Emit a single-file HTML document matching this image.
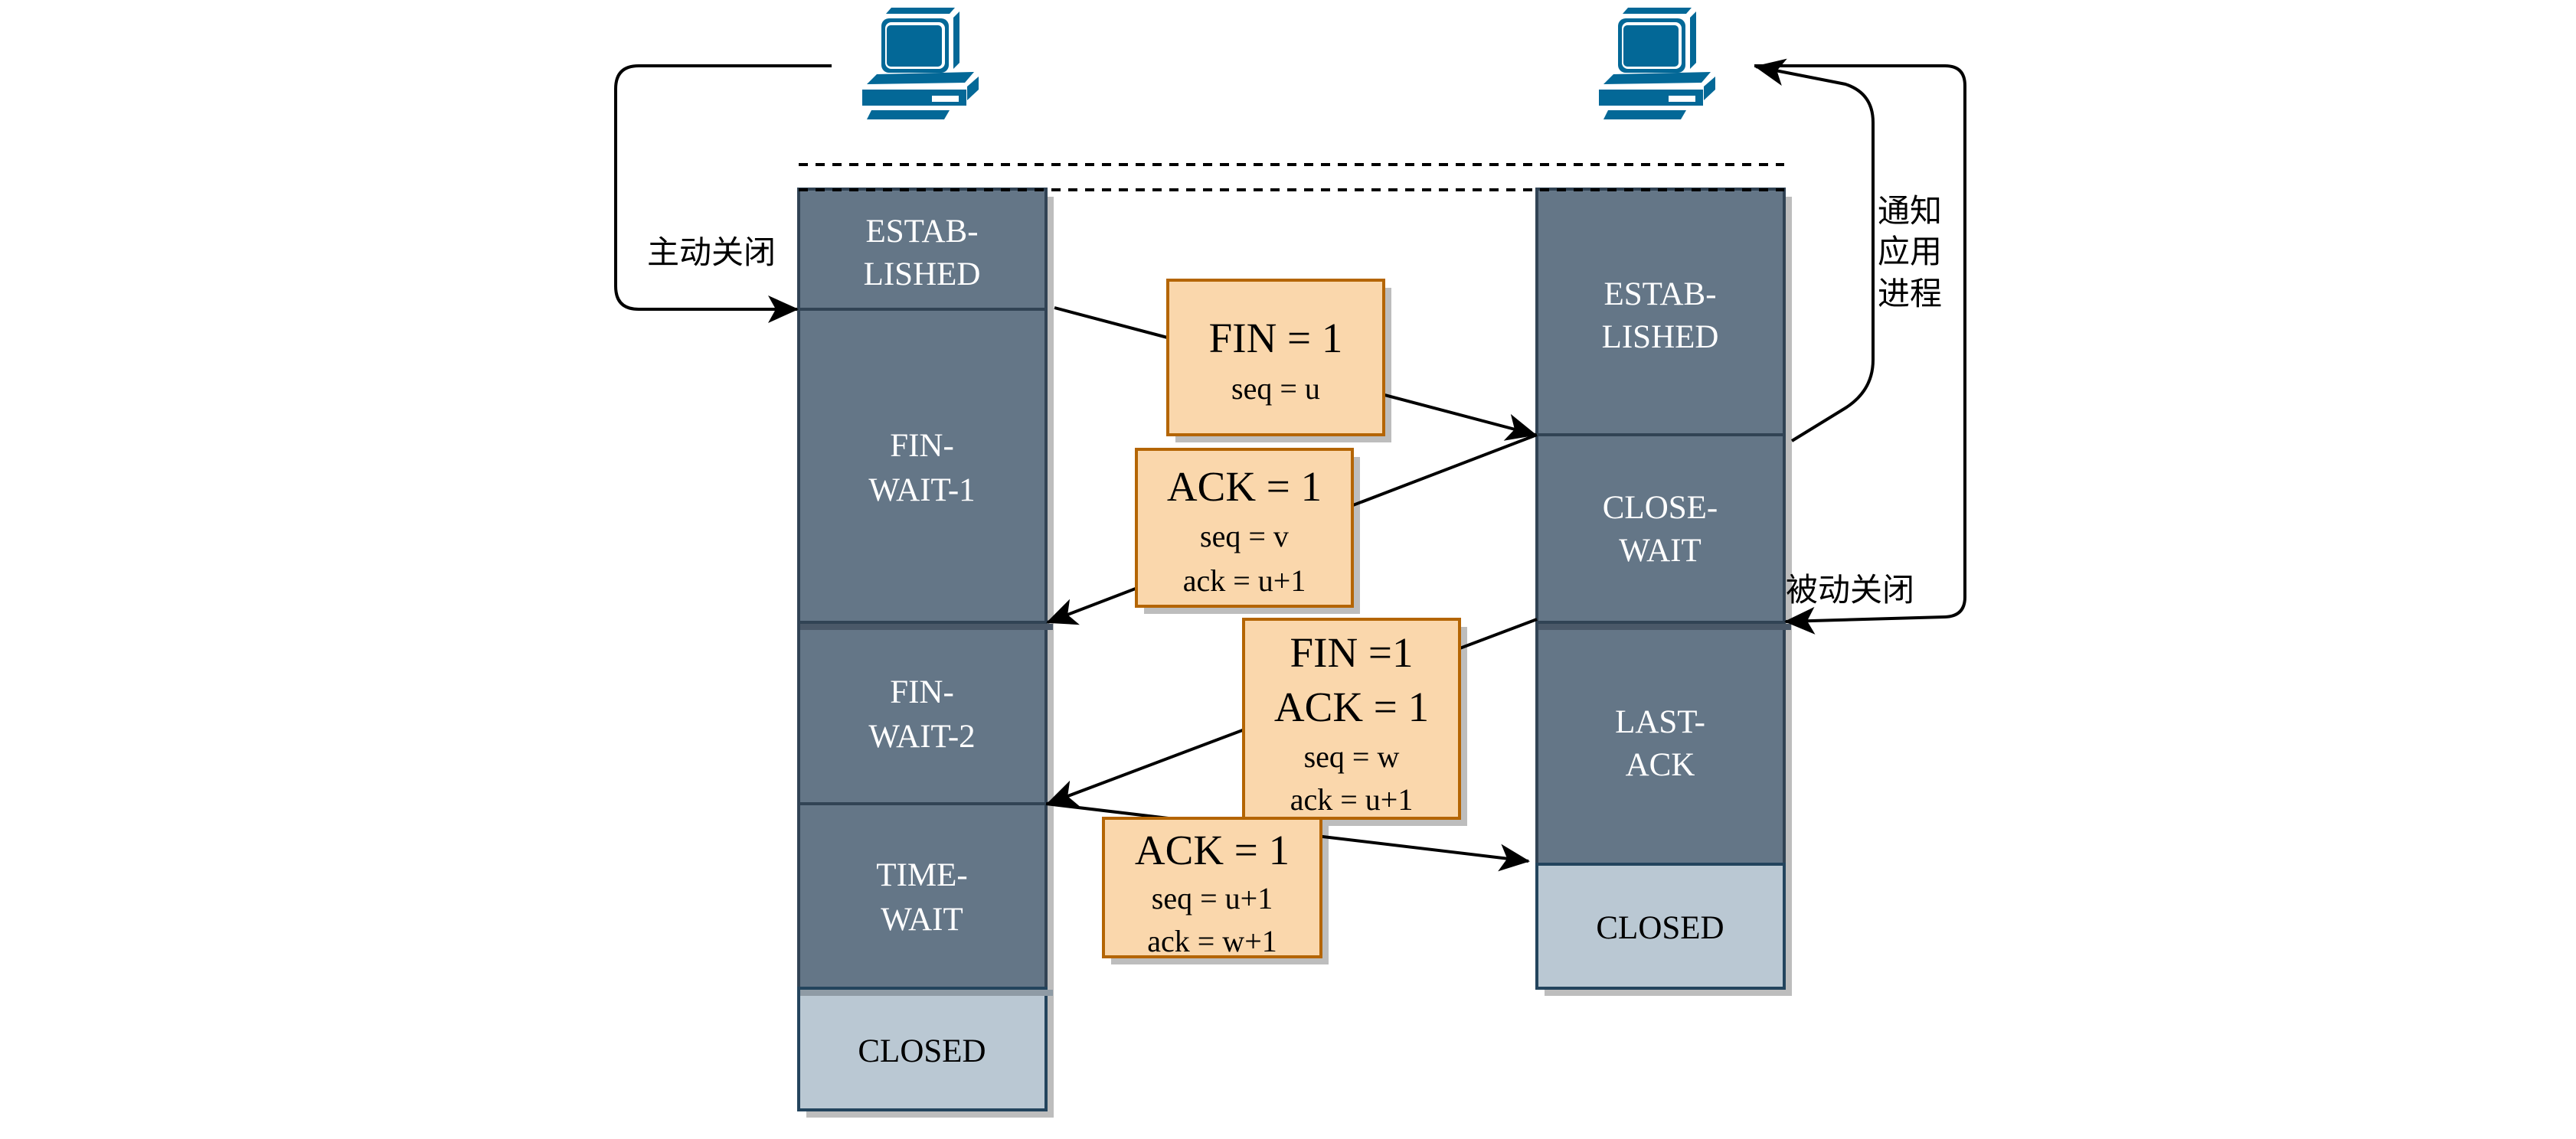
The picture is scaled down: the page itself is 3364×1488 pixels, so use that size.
<!DOCTYPE html>
<html><head><meta charset="utf-8"><style>
html,body{margin:0;padding:0;background:#fff;}
svg{display:block;}
.w{font-family:"Liberation Serif",serif;fill:#fff;font-size:43px;text-anchor:middle;}
.b{font-family:"Liberation Serif",serif;fill:#000;text-anchor:middle;}
.cn{font-family:"Liberation Sans","Noto Sans CJK SC",sans-serif;font-size:42px;fill:#000;}
</style></head><body>
<svg width="3364" height="1488" viewBox="0 0 3364 1488" xmlns="http://www.w3.org/2000/svg">
<defs>
<marker id="ar" viewBox="0 0 20 20" refX="19" refY="10" markerWidth="14" markerHeight="14" markerUnits="userSpaceOnUse" orient="auto">
<path d="M0,0 L20,10 L0,20 L5,10 Z" fill="#000"/>
</marker>
<marker id="ar2" viewBox="0 0 20 20" refX="19" refY="10" markerWidth="40" markerHeight="40" markerUnits="userSpaceOnUse" orient="auto">
<path d="M0,1 L20,10 L0,19 L5,10 Z" fill="#000"/>
</marker>
<g id="pc" fill="#036897">
<polygon points="1157,18 1164,10 1247,10 1240,18"/>
<rect x="1151" y="24" width="88" height="71" rx="10"/>
<rect x="1156" y="29" width="78" height="61" rx="8" fill="#fff"/>
<rect x="1158" y="33" width="72" height="54" rx="5"/>
<polygon points="1245,23 1253,15 1253,82 1245,90"/>
<polygon points="1132,110 1145,97 1272,94 1260,108"/>
<rect x="1126" y="117" width="136" height="21"/>
<rect x="1217" y="125" width="35" height="8" fill="#fff"/>
<polygon points="1263,113 1278,100 1278,117 1263,131"/>
<polygon points="1138,144 1240,144 1233,156 1132,156"/>
</g>
</defs>
<use href="#pc"/>
<use href="#pc" transform="translate(962,0)"/>

<!-- shadows -->
<g fill="#bdbdbd">
<rect x="1053" y="257" width="323" height="1203"/>
<rect x="2017" y="257" width="323" height="1044"/>
<rect x="1535" y="376" width="282" height="202"/>
<rect x="1494" y="597" width="282" height="205"/>
<rect x="1634" y="819" width="282" height="260"/>
<rect x="1451" y="1079" width="284" height="181"/>
</g>

<!-- left column -->
<g stroke="#314354" stroke-width="4" fill="#647687">
<rect x="1043" y="247" width="323" height="157"/>
<rect x="1043" y="404" width="323" height="409"/>
<rect x="1043" y="813" width="323" height="237"/>
<rect x="1043" y="1050" width="323" height="241"/>
<rect x="1043" y="1291" width="323" height="159" fill="#bac8d3" stroke="#23445d"/>
</g>
<rect x="1045" y="815" width="330" height="8" fill="#4a5868"/>
<rect x="1045" y="1293" width="330" height="8" fill="#8f9ba5"/>
<!-- right column -->
<g stroke="#314354" stroke-width="4" fill="#647687">
<rect x="2007" y="247" width="323" height="321"/>
<rect x="2007" y="568" width="323" height="245"/>
<rect x="2007" y="813" width="323" height="316"/>
<rect x="2007" y="1129" width="323" height="162" fill="#bac8d3" stroke="#23445d"/>
</g>
<rect x="2009" y="815" width="330" height="8" fill="#4a5868"/>

<!-- dashed lines -->
<g stroke="#000" stroke-width="4" stroke-dasharray="12,10">
<line x1="1043" y1="215" x2="2330" y2="215"/>
<line x1="1043" y1="248" x2="2330" y2="248"/>
</g>

<!-- column text -->
<text class="w" x="1204" y="316">ESTAB-</text>
<text class="w" x="1204" y="372">LISHED</text>
<text class="w" x="1204" y="596">FIN-</text>
<text class="w" x="1204" y="654">WAIT-1</text>
<text class="w" x="1204" y="918">FIN-</text>
<text class="w" x="1204" y="976">WAIT-2</text>
<text class="w" x="1204" y="1157">TIME-</text>
<text class="w" x="1204" y="1215">WAIT</text>
<text class="b" x="1204" y="1387" font-size="43">CLOSED</text>
<text class="w" x="2168" y="398">ESTAB-</text>
<text class="w" x="2168" y="454">LISHED</text>
<text class="w" x="2168" y="677">CLOSE-</text>
<text class="w" x="2168" y="733">WAIT</text>
<text class="w" x="2168" y="957">LAST-</text>
<text class="w" x="2168" y="1013">ACK</text>
<text class="b" x="2168" y="1226" font-size="43">CLOSED</text>

<!-- connectors -->
<g stroke="#000" stroke-width="4" fill="none">
<path d="M1086,86 H834 Q804,86 804,116 V374 Q804,404 834,404 H1041" marker-end="url(#ar2)"/>
<line x1="1377" y1="402" x2="2005" y2="568" marker-end="url(#ar2)"/>
<line x1="2007" y1="568" x2="1368" y2="813" marker-end="url(#ar2)"/>
<line x1="2007" y1="809" x2="1368" y2="1050" marker-end="url(#ar2)"/>
<line x1="1366" y1="1050" x2="1996" y2="1125" marker-end="url(#ar2)"/>
<path d="M2340,576 L2410,533 Q2446,510 2446,470 V160 Q2446,122 2410,110 L2293,87" marker-end="url(#ar2)"/>
<path d="M2291,86 H2540 Q2566,86 2566,112 V780 Q2566,805 2540,806 L2332,812" marker-end="url(#ar2)"/>
</g>

<!-- message boxes -->
<g fill="#fad7ac" stroke="#b46504" stroke-width="4">
<rect x="1525" y="366" width="282" height="202"/>
<rect x="1484" y="587" width="282" height="205"/>
<rect x="1624" y="809" width="282" height="260"/>
<rect x="1441" y="1069" width="284" height="181"/>
</g>
<text class="b" x="1666" y="460" font-size="55">FIN = 1</text>
<text class="b" x="1666" y="521" font-size="40">seq = u</text>
<text class="b" x="1625" y="654" font-size="55">ACK = 1</text>
<text class="b" x="1625" y="714" font-size="40">seq = v</text>
<text class="b" x="1625" y="772" font-size="40">ack = u+1</text>
<text class="b" x="1765" y="871" font-size="55">FIN =1</text>
<text class="b" x="1765" y="942" font-size="55">ACK = 1</text>
<text class="b" x="1765" y="1002" font-size="40">seq = w</text>
<text class="b" x="1765" y="1058" font-size="40">ack = u+1</text>
<text class="b" x="1583" y="1129" font-size="55">ACK = 1</text>
<text class="b" x="1583" y="1187" font-size="40">seq = u+1</text>
<text class="b" x="1583" y="1243" font-size="40">ack = w+1</text>

<!-- labels -->
<text class="cn" x="845" y="344">主动关闭</text>
<text class="cn" x="2452" y="290">通知</text>
<text class="cn" x="2452" y="343">应用</text>
<text class="cn" x="2452" y="398">进程</text>
<text class="cn" x="2332" y="785">被动关闭</text>
</svg>
</body></html>
